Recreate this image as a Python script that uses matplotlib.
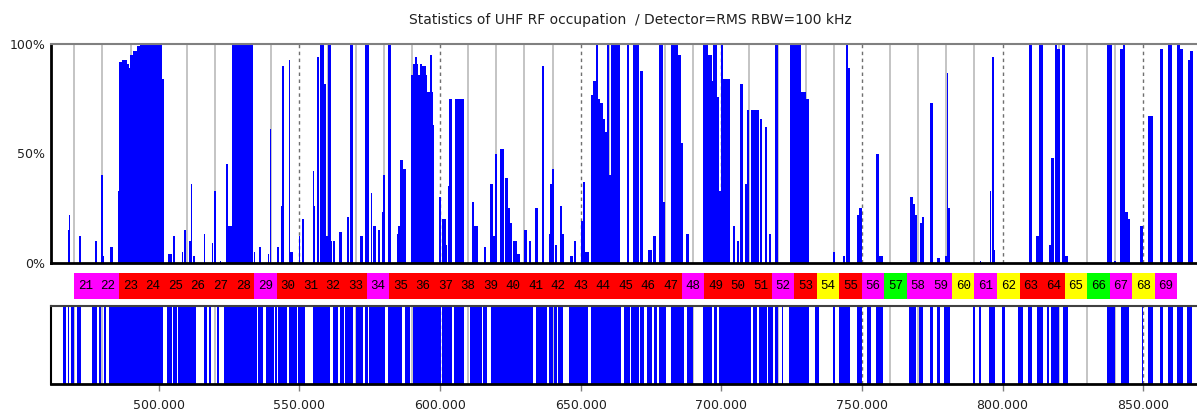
import matplotlib.pyplot as plt

# Top panel: occupation spikes, left edge (MHz), width (MHz), level (%)
occ_left = [467.7, 468.1, 471.7, 477.3, 479.5, 480.1, 482.8, 485.4,
            486.0, 486.9, 488.65, 489.6, 489.8, 491.0, 492.2, 493.4, 501.3,
            503.4, 505.2, 508.1, 509.1, 510.9, 511.3, 512.1, 516.1, 518.8, 519.8, 521.7,
            523.9, 524.5, 525.9, 533.7, 535.8, 538.7, 539.4, 542.2, 543.4, 543.9, 546.2, 546.8, 549.9, 550.8,
            554.7, 555.2, 556.3, 557.3, 558.9, 559.5, 560.3, 561.2, 562.1, 564.2, 566.8, 568.0,
            571.5, 573.5, 575.3, 576.2, 578.0, 579.2, 579.8, 581.4, 584.6, 585.2, 585.8, 587.0,
            589.7, 590.5, 591.1, 591.7, 592.3, 592.9, 593.5, 595.0, 595.5, 596.4, 597.0, 597.4,
            599.7, 600.8, 602.0, 602.9, 603.3, 605.3,
            611.4, 612.2, 615.5, 617.8, 619.0, 619.6, 621.4, 623.2, 624.0, 624.9, 626.1, 627.3, 629.9, 631.5,
            633.9, 636.2, 636.8, 638.6, 639.2, 639.8, 640.9, 642.5, 643.3, 646.3, 647.5, 650.1, 650.8, 651.6,
            653.6, 654.3, 655.5, 656.0, 656.9, 658.1, 658.7, 659.3, 660.1, 660.7, 666.3,
            668.7, 671.0, 674.0, 675.8, 677.9, 679.3, 682.0, 684.6, 685.8, 687.4, 689.4,
            693.6, 695.4, 696.6, 697.2, 698.4, 699.3, 699.8, 700.7, 704.3, 705.5, 706.5,
            708.5, 709.2, 710.7, 712.1, 713.8, 715.6, 716.8, 719.1, 724.5, 728.5, 730.0,
            739.6, 743.2, 744.3, 745.2, 748.3, 749.1, 755.0, 756.2, 767.1,
            768.0, 768.9, 770.6, 771.3, 774.2, 776.8, 779.5, 780.1, 780.7,
            792.0, 795.5, 796.1, 796.9, 809.5, 811.9, 813.0, 816.6, 817.1, 818.6, 819.2, 821.0, 822.2, 837.0,
            839.6, 841.7, 842.7, 843.5, 844.7, 848.8, 851.8, 856.0, 858.9, 861.9, 863.1, 864.0, 865.8, 866.6]
occ_width = [0.4, 0.5, 0.6, 0.6, 0.6, 0.3, 0.8, 0.5,
             0.9, 1.75, 0.95, 0.2, 1.2, 1.2, 1.2, 7.9, 0.6,
             1.2, 0.5, 0.5, 0.5, 0.4, 0.5, 0.8, 0.5, 0.5, 0.5, 0.4,
             0.6, 1.4, 7.7, 0.5, 0.4, 0.6, 0.4, 0.5, 0.5, 0.5, 0.6, 0.9, 0.4, 0.9,
             0.5, 0.4, 0.7, 1.5, 0.6, 0.5, 0.9, 0.5, 0.5, 0.8, 0.9, 1.2,
             1.2, 1.3, 0.4, 1.2, 0.6, 0.4, 0.5, 1.1, 0.6, 0.5, 0.9, 0.9,
             0.8, 0.6, 0.6, 0.6, 0.6, 0.6, 1.5, 0.5, 0.9, 0.6, 0.4, 0.5,
             0.8, 1.2, 0.6, 0.4, 1.0, 3.2,
             0.8, 1.2, 0.9, 1.2, 0.6, 0.8, 1.2, 0.8, 0.9, 0.6, 1.2, 1.1, 0.9, 0.8,
             1.1, 0.6, 0.3, 0.6, 0.6, 0.8, 0.6, 0.8, 0.6, 0.9, 0.9, 0.7, 0.8, 1.2,
             0.7, 1.2, 0.5, 0.9, 1.2, 0.6, 0.6, 0.8, 0.6, 3.3, 0.7,
             2.1, 1.0, 1.2, 0.9, 1.4, 0.6, 2.6, 1.2, 0.6, 1.2, 0.3,
             1.8, 1.2, 0.6, 1.2, 0.9, 0.5, 0.9, 2.4, 0.6, 0.9, 1.2,
             0.7, 0.6, 1.2, 1.2, 0.6, 0.6, 0.9, 1.2, 4.0, 1.5, 1.3,
             0.8, 0.8, 0.9, 0.6, 0.8, 0.8, 1.2, 1.4, 0.9,
             0.9, 0.6, 0.7, 0.8, 1.0, 0.9, 0.6, 0.6, 0.6,
             0.3, 0.5, 0.8, 0.4, 0.8, 1.1, 1.3, 0.5, 1.2, 0.6, 1.2, 1.2, 1.2, 1.8,
             0.7, 1.0, 0.8, 1.2, 0.6, 1.0, 1.6, 0.9, 1.2, 1.2, 0.9, 0.2, 0.8, 1.0]
occ_pct = [15, 22, 12, 10, 40, 3, 7, 33,
           92, 93, 91, 89, 95, 97, 99, 100, 84,
           4, 12, 5, 15, 10, 36, 3, 13, 9, 33, 1,
           45, 17, 100, 5, 7, 4, 61, 7, 26, 90, 93, 5, 12, 20,
           42, 26, 94, 100, 82, 12, 100, 10, 10, 14, 21, 100,
           12, 100, 32, 17, 15, 23, 40, 100, 13, 17, 47, 43,
           86, 91, 94, 91, 86, 91, 90, 86, 78, 95, 78, 63,
           30, 20, 8, 35, 75, 75,
           28, 17, 7, 36, 12, 50, 52, 39, 25, 18, 10, 4, 15, 10,
           25, 90, 67, 13, 36, 43, 8, 26, 13, 3, 10, 19, 37, 5,
           77, 83, 100, 75, 73, 66, 60, 100, 40, 100, 100,
           100, 88, 6, 12, 100, 28, 100, 95, 55, 13, 3,
           100, 95, 83, 100, 76, 33, 100, 84, 17, 10, 82,
           36, 70, 70, 70, 66, 62, 13, 100, 100, 78, 75,
           5, 3, 100, 89, 22, 25, 50, 3, 30,
           27, 22, 18, 21, 73, 2, 3, 87, 25,
           1, 33, 94, 6, 100, 12, 100, 8, 48, 100, 98, 100, 3, 100,
           1, 98, 100, 23, 20, 17, 67, 98, 100, 100, 98, 6, 93, 97]

# Bottom panel: occupied frequency ranges (MHz)
busy_lo = [466.1, 467.6, 468.8, 470.9, 476.3, 478.9, 480.7, 482.4, 502.8, 505.2, 506.8,
           516.1, 517.7, 520.6, 523.2, 535.4, 538.2, 541.3, 542.5, 546.4, 549.6, 554.7,
           562.1, 564.5, 566.2, 570.1, 573.2, 574.9, 581.6, 587.5, 590.3, 600.7, 605.1,
           610.6, 615.4, 618.1, 634.0, 638.6, 640.6, 642.0, 645.9, 653.7, 665.5, 667.9,
           671.1, 673.5, 675.9, 677.8, 682.1, 687.7, 693.6, 697.4, 699.3, 711.4, 713.3,
           716.7, 719.1, 721.5, 724.1, 733.3, 739.6, 741.9, 748.3, 751.7, 755.0, 766.8,
           770.4, 774.2, 776.8, 779.3, 789.4, 791.7, 795.3, 799.7, 805.6, 808.9, 812.1,
           815.7, 817.1, 821.4, 837.2, 842.0, 849.5, 851.8, 856.0, 858.9, 861.9, 865.7]
busy_hi = [467.0, 468.1, 469.7, 472.3, 478.0, 479.5, 481.3, 501.6, 504.6, 506.4, 513.4,
           517.1, 518.5, 521.5, 534.9, 537.0, 540.8, 542.0, 545.5, 549.0, 552.0, 560.8,
           563.9, 565.9, 569.2, 572.7, 574.3, 580.5, 586.4, 589.3, 600.3, 604.4, 608.5,
           614.8, 616.8, 633.2, 637.9, 640.0, 641.5, 643.6, 652.5, 664.3, 667.4, 670.6,
           672.5, 675.2, 677.1, 680.4, 686.8, 689.8, 696.6, 698.6, 710.6, 712.6, 716.2,
           718.3, 720.3, 722.1, 731.3, 734.8, 740.4, 745.8, 749.9, 753.1, 757.6, 769.2,
           771.6, 775.2, 777.7, 781.3, 790.2, 792.2, 797.3, 800.9, 807.1, 810.3, 814.3,
           816.6, 820.2, 823.4, 840.0, 845.0, 850.0, 853.4, 856.9, 860.4, 864.2, 867.2]

# TV channels 21..69 and their state colour
channels = list(range(21, 70))
chan_state = "mm" + "rrrrrr" + "m" + "rrrr" + "m" + "rrrrrrrrrrrrr" + "m" + "rrr" + "m" \
             + "r" + "y" + "r" + "m" + "g" + "mm" + "y" + "m" + "y" + "rr" + "y" + "g" + "m" + "y" + "m"
state_color = {"r": "#ff0000", "m": "#ff00ff", "y": "#ffff00", "g": "#00ff00"}

freq_ticks = [500, 550, 600, 650, 700, 750, 800, 850]
x_range = (461.7, 869.1)

W, H = 1197, 412
fig = plt.figure(figsize=(W / 100, H / 100), dpi=100)
ax1 = fig.add_axes([51 / W, 1 - 262.7 / H, 1 - 51 / W, 218.4 / H])
ax_ch = fig.add_axes([51 / W, 1 - 299 / H, 1 - 51 / W, 26 / H])
ax2 = fig.add_axes([51 / W, 1 - 384 / H, 1 - 51 / W, 78 / H])


def grid(ax):
    for f in range(470, 870, 10):
        if f % 50 == 0:
            ax.axvline(f, color="#707070", lw=1.0, ls=(0, (2.5, 2.5)), zorder=1)
        else:
            ax.axvline(f, color="#c4c4c4", lw=1.4, zorder=1)


# top panel
grid(ax1)
ax1.bar(occ_left, occ_pct, width=occ_width, align="edge", color="#0000ff", lw=0, zorder=2)
ax1.set_xlim(*x_range)
ax1.set_ylim(0, 100)
ax1.set_yticks([0, 50, 100])
ax1.set_yticklabels(["0%", "50%", "100%"], fontsize=9, color="#202020")
ax1.tick_params(axis="y", length=0, pad=4)
ax1.set_xticks([])
ax1.spines["right"].set_visible(False)
ax1.spines["top"].set_color("#808080")
ax1.spines["top"].set_linewidth(1.5)
ax1.spines["left"].set_linewidth(2)
ax1.spines["bottom"].set_linewidth(2)

# channel strip
ax_ch.bar([470 + 8 * (c - 21) for c in channels], 1, width=8, align="edge",
          color=[state_color[s] for s in chan_state], lw=0)
for c in channels:
    ax_ch.text(470 + 8 * (c - 21) + 4, 0.5, str(c), ha="center", va="center",
               fontsize=9, family="Liberation Mono", color="#000000")
ax_ch.set_xlim(*x_range)
ax_ch.set_ylim(0, 1)
ax_ch.axis("off")

# bottom panel
grid(ax2)
ax2.bar(busy_lo, 1, width=[b - a for a, b in zip(busy_lo, busy_hi)], align="edge",
        color="#0000ff", lw=0, zorder=2)
ax2.set_xlim(*x_range)
ax2.set_ylim(0, 1)
ax2.set_yticks([])
ax2.set_xticks(freq_ticks)
ax2.set_xticklabels(["%d.000" % f for f in freq_ticks], fontsize=9, color="#202020")
ax2.tick_params(axis="x", length=5, width=1, color="#808080", pad=5.5)
ax2.spines["right"].set_visible(False)
ax2.spines["top"].set_color("#404040")
ax2.spines["top"].set_linewidth(1.5)
ax2.spines["left"].set_linewidth(1.5)
ax2.spines["bottom"].set_linewidth(2)

fig.text(630 / W, 1 - 20 / H, "Statistics of UHF RF occupation  / Detector=RMS RBW=100 kHz",
         ha="center", va="center", fontsize=10, color="#202020")

fig.savefig("out.png", dpi=100)
